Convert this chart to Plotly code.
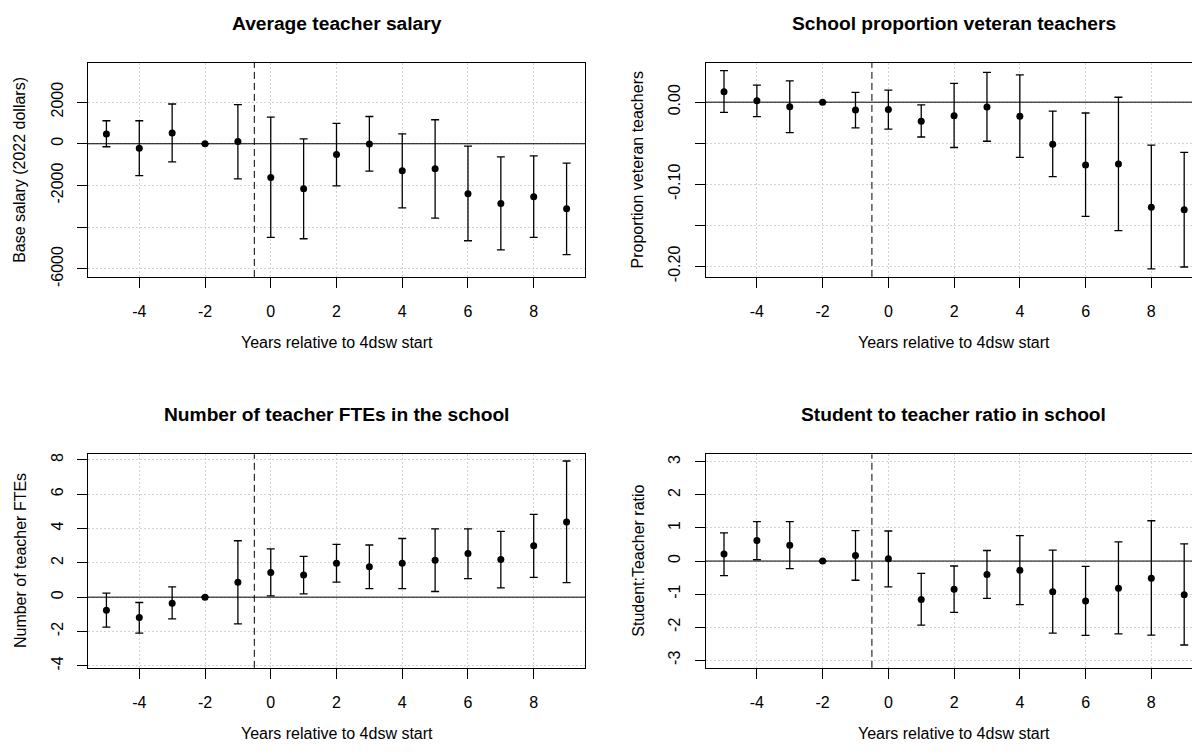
import plotly.graph_objects as go

# Event-study estimates (point estimate, lower and upper 95% bounds) by year relative to start
years = [-5, -4, -3, -2, -1, 0, 1, 2, 3, 4, 5, 6, 7, 8, 9]

salary_est = [472, -220, 520, 0, 110, -1622, -2158, -520, -10, -1292, -1197, -2394, -2867, -2536, -3119]
salary_lo = [-142, -1528, -866, 0, -1685, -4489, -4552, -2016, -1307, -3071, -3560, -4646, -5087, -4489, -5308]
salary_hi = [1102, 1102, 1906, 0, 1874, 1276, 236, 977, 1307, 472, 1150, -110, -630, -583, -929]

vet_est = [0.0128, 0.0016, -0.0056, 0, -0.0096, -0.0088, -0.0232, -0.0164, -0.0060, -0.0172, -0.0512, -0.0764, -0.0752, -0.1280, -0.1312]
vet_lo = [-0.0124, -0.0176, -0.0372, 0, -0.0312, -0.0328, -0.0424, -0.0552, -0.0476, -0.0672, -0.0908, -0.1392, -0.1564, -0.2032, -0.2008]
vet_hi = [0.0384, 0.0208, 0.0260, 0, 0.0120, 0.0148, -0.0032, 0.0228, 0.0364, 0.0332, -0.0108, -0.0132, 0.0060, -0.0524, -0.0612]

fte_est = [-0.77, -1.19, -0.35, 0, 0.87, 1.44, 1.29, 1.98, 1.77, 1.98, 2.15, 2.54, 2.19, 3.00, 4.38]
fte_lo = [-1.75, -2.10, -1.27, 0, -1.56, 0.08, 0.19, 0.88, 0.50, 0.50, 0.33, 1.08, 0.54, 1.15, 0.85]
fte_hi = [0.23, -0.31, 0.60, 0, 3.29, 2.81, 2.38, 3.08, 3.04, 3.42, 3.98, 3.98, 3.83, 4.83, 7.94]

ratio_est = [0.21, 0.62, 0.48, 0, 0.17, 0.07, -1.16, -0.85, -0.41, -0.28, -0.93, -1.21, -0.82, -0.52, -1.02]
ratio_lo = [-0.44, 0.04, -0.23, 0, -0.58, -0.78, -1.94, -1.55, -1.13, -1.32, -2.18, -2.25, -2.20, -2.24, -2.54]
ratio_hi = [0.85, 1.19, 1.19, 0, 0.92, 0.91, -0.37, -0.15, 0.32, 0.77, 0.33, -0.16, 0.58, 1.22, 0.52]

x_ticks = [-4, -2, 0, 2, 4, 6, 8]
x_ticktext = ["-4", "-2", "0", "2", "4", "6", "8"]

salary_ticks = [-6000, -4000, -2000, 0, 2000]
salary_ticktext = ["-6000", "", "-2000", "0", "2000"]
vet_ticks = [-0.20, -0.15, -0.10, -0.05, 0.00]
vet_ticktext = ["-0.20", "", "-0.10", "", "0.00"]
fte_ticks = [-4, -2, 0, 2, 4, 6, 8]
fte_ticktext = ["-4", "-2", "0", "2", "4", "6", "8"]
ratio_ticks = [-3, -2, -1, 0, 1, 2, 3]
ratio_ticktext = ["-3", "-2", "-1", "0", "1", "2", "3"]

titles = ["Average teacher salary", "School proportion veteran teachers",
          "Number of teacher FTEs in the school", "Student to teacher ratio in school"]
ylabels = ["Base salary (2022 dollars)", "Proportion veteran teachers",
           "Number of teacher FTEs", "Student:Teacher ratio"]
xlabel = "Years relative to 4dsw start"
event_line = -0.5

W, H = 1192, 754
FONT = "Liberation Sans, Arial, Helvetica, sans-serif"

# panel boxes in pixels: (left, right, top, bottom)
boxes = [(88, 585, 62.7, 280.0), (705.6, 1202.0, 62.7, 280.0),
         (88, 585, 460.0, 676.7), (705.6, 1202.0, 460.0, 676.7)]
px_per_year = (585 - 88) / 15.12

panels = [
    (salary_est, salary_lo, salary_hi, salary_ticks, salary_ticktext, [-6380, 3880]),
    (vet_est, vet_lo, vet_hi, vet_ticks, vet_ticktext, [-0.2129, 0.048]),
    (fte_est, fte_lo, fte_hi, fte_ticks, fte_ticktext, [-4.12, 8.33]),
    (ratio_est, ratio_lo, ratio_hi, ratio_ticks, ratio_ticktext, [-3.23, 3.23]),
]

fig = go.Figure()
annotations = []
shapes = []

for i, (est, lo, hi, yt, ytt, yr) in enumerate(panels):
    n = "" if i == 0 else str(i + 1)
    left, right, top, bottom = boxes[i]
    vis_right = min(right, W)
    x0 = -5.56
    x1 = x0 + (vis_right - left) / px_per_year

    up = [None if h == e == l else h - e for e, l, h in zip(est, lo, hi)]
    dn = [None if h == e == l else e - l for e, l, h in zip(est, lo, hi)]

    fig.add_trace(go.Scatter(
        x=years, y=est, mode="markers",
        marker=dict(color="black", size=7),
        error_y=dict(type="data", symmetric=False, array=up, arrayminus=dn,
                     color="black", thickness=1.3, width=4),
        xaxis="x" + n, yaxis="y" + n, showlegend=False, hoverinfo="skip",
    ))

    axis_common = dict(
        showline=True, linecolor="black", linewidth=1,
        ticks="outside", ticklen=10, tickwidth=1, tickcolor="black",
        showgrid=True, gridcolor="#d3d3d3", gridwidth=1, griddash="2px,2px",
        zeroline=False, tickfont=dict(family=FONT, size=16, color="black"),
        fixedrange=True,
    )
    fig.update_layout(**{
        "xaxis" + n: dict(
            axis_common, domain=[left / W, vis_right / W], range=[x0, x1],
            tickvals=x_ticks, ticktext=x_ticktext, anchor="y" + n,
            mirror=True, ticklabelstandoff=10,
        ),
        "yaxis" + n: dict(
            axis_common, domain=[1 - bottom / H, 1 - top / H], range=yr,
            tickvals=yt, ticktext=ytt, anchor="x" + n, tickangle=-90,
            mirror=(right <= W), ticklabelstandoff=8,
        ),
    })

    # reference line at zero and treatment start marker
    shapes.append(dict(type="line", xref="x" + n + " domain", yref="y" + n,
                       x0=0, x1=1, y0=0, y1=0, line=dict(color="black", width=1)))
    shapes.append(dict(type="line", xref="x" + n, yref="y" + n + " domain",
                       x0=event_line, x1=event_line, y0=0, y1=1,
                       line=dict(color="black", width=1, dash="7px,4px")))

    cx = (left + right) / 2
    annotations.append(dict(text="<b>" + titles[i] + "</b>", xref="paper", yref="paper",
                            x=cx / W, y=1 - (top - 40) / H, xanchor="center", yanchor="middle",
                            showarrow=False, font=dict(family=FONT, size=19.2, color="black")))
    annotations.append(dict(text=ylabels[i], xref="paper", yref="paper",
                            x=(left - 68) / W, y=1 - ((top + bottom) / 2) / H,
                            xanchor="center", yanchor="middle", textangle=-90,
                            showarrow=False, font=dict(family=FONT, size=16, color="black")))
    annotations.append(dict(text=xlabel, xref="paper", yref="paper",
                            x=cx / W, y=1 - (bottom + 67) / H,
                            xanchor="center", yanchor="middle",
                            showarrow=False, font=dict(family=FONT, size=16, color="black")))

fig.update_layout(
    width=W, height=H, margin=dict(l=0, r=0, t=0, b=0),
    paper_bgcolor="white", plot_bgcolor="white",
    annotations=annotations, shapes=shapes,
    font=dict(family=FONT, size=16, color="black"),
)

fig.write_html("out.html", config={"displayModeBar": False})
